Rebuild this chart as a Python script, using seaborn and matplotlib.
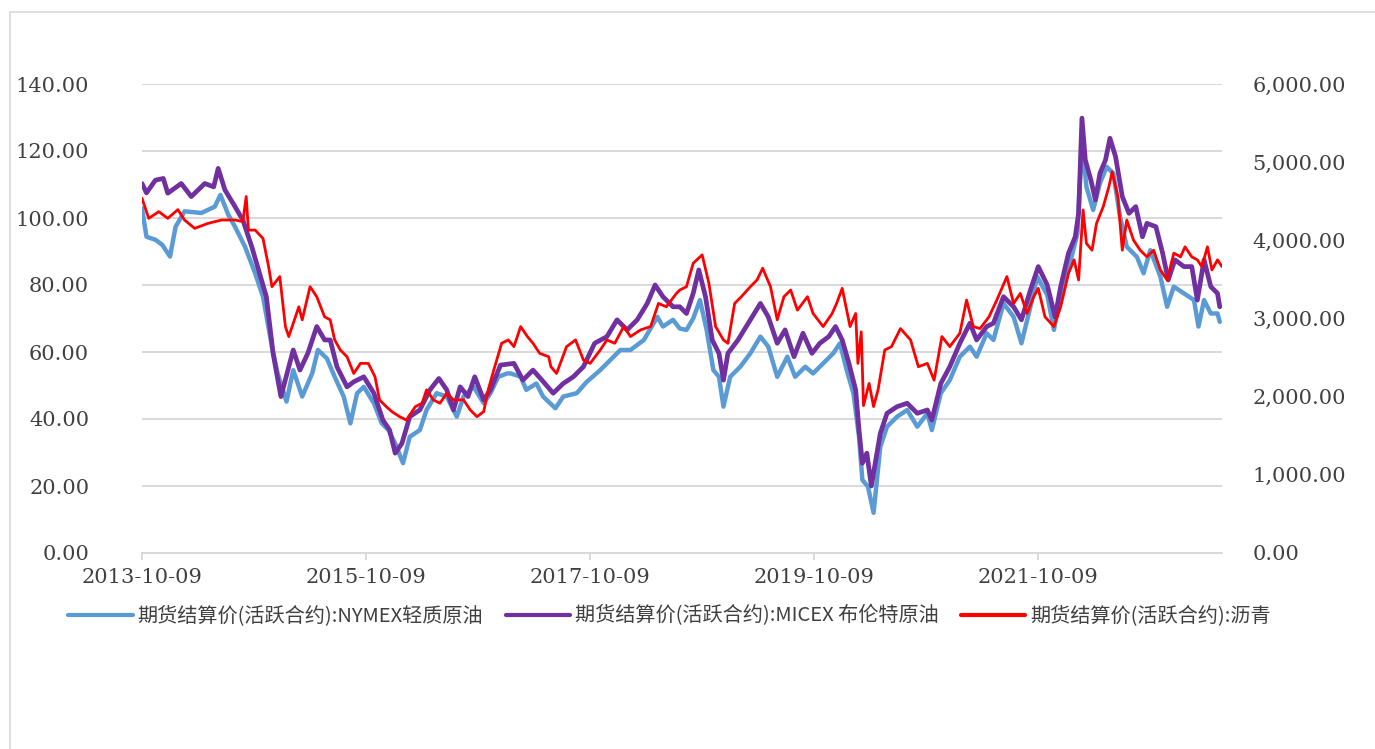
import numpy as np
import pandas as pd
import matplotlib
matplotlib.use("Agg")
import matplotlib.pyplot as plt
from matplotlib.lines import Line2D
from matplotlib.ticker import FixedLocator, FuncFormatter
import seaborn as sns

# ---------------- data (time as decimal year) ----------------
START_DATE = "2013-10-09"
START_T = 2013.77

x_tick_labels = ["2013-10-09", "2015-10-09", "2017-10-09", "2019-10-09", "2021-10-09"]
left_ticks = [0, 20, 40, 60, 80, 100, 120, 140]
right_ticks = [0, 1000, 2000, 3000, 4000, 5000, 6000]

series_names = [
    "期货结算价(活跃合约):NYMEX轻质原油",
    "期货结算价(活跃合约):MICEX 布伦特原油",
    "期货结算价(活跃合约):沥青",
]

wti_t = [2013.77, 2013.81, 2013.89, 2013.95, 2014.02, 2014.07, 2014.15, 2014.30, 2014.42, 2014.47,
         2014.54, 2014.60, 2014.69, 2014.78, 2014.85, 2014.93, 2014.98, 2015.06, 2015.12, 2015.20,
         2015.29, 2015.34, 2015.42, 2015.49, 2015.57, 2015.63, 2015.69, 2015.75, 2015.84, 2015.91,
         2015.97, 2016.03, 2016.10, 2016.16, 2016.25, 2016.31, 2016.40, 2016.49, 2016.58, 2016.64,
         2016.73, 2016.82, 2016.88, 2016.95, 2017.03, 2017.06, 2017.15, 2017.20, 2017.29, 2017.35,
         2017.46, 2017.53, 2017.65, 2017.74, 2017.86, 2017.95, 2018.04, 2018.13, 2018.25, 2018.37,
         2018.42, 2018.51, 2018.57, 2018.63, 2018.69, 2018.75, 2018.81, 2018.87, 2018.92, 2018.96,
         2019.02, 2019.11, 2019.20, 2019.29, 2019.36, 2019.44, 2019.53, 2019.60, 2019.69, 2019.76,
         2019.85, 2019.94, 2020.00, 2020.06, 2020.12, 2020.17, 2020.20, 2020.25, 2020.30, 2020.36,
         2020.42, 2020.51, 2020.60, 2020.69, 2020.78, 2020.82, 2020.90, 2020.98, 2021.07, 2021.16,
         2021.22, 2021.31, 2021.37, 2021.46, 2021.55, 2021.62, 2021.70, 2021.76, 2021.85, 2021.91,
         2021.97, 2022.06, 2022.12, 2022.16, 2022.20, 2022.26, 2022.32, 2022.38, 2022.44, 2022.50,
         2022.56, 2022.65, 2022.71, 2022.77, 2022.86, 2022.92, 2022.98, 2023.07, 2023.16, 2023.20,
         2023.25, 2023.31, 2023.37, 2023.39]
wti_v = [102.9, 94.4, 93.5, 92.0, 88.5, 97.4, 102.0, 101.5, 103.4, 106.9,
         101.0, 97.4, 91.4, 83.5, 76.5, 61.6, 53.7, 45.2, 54.6, 46.7,
         53.7, 60.6, 58.1, 52.6, 46.7, 38.7, 47.7, 49.6, 44.7, 38.7,
         36.7, 32.7, 26.8, 34.7, 36.7, 42.7, 47.7, 46.7, 40.7, 46.7,
         49.6, 44.7, 47.7, 52.6, 53.6, 53.6, 52.6, 48.7, 50.6, 46.7,
         43.2, 46.7, 47.7, 51.1, 54.6, 57.6, 60.6, 60.6, 63.6, 70.5,
         67.6, 69.6, 67.0, 66.6, 70.0, 75.5, 66.6, 54.6, 52.6, 43.7,
         52.6, 55.6, 59.6, 64.6, 61.6, 52.6, 58.6, 52.6, 55.6, 53.6,
         56.6, 59.6, 62.6, 54.6, 47.7, 34.7, 21.8, 19.8, 12.0, 31.7,
         37.7, 40.7, 42.7, 37.7, 41.7, 36.7, 47.7, 51.6, 58.6, 61.6,
         58.6, 65.6, 63.6, 74.5, 70.5, 62.6, 73.5, 82.5, 77.0, 66.6,
         77.5, 87.5, 95.4, 123.0, 109.3, 102.4, 110.3, 115.3, 113.3, 100.4,
         91.4, 88.4, 83.5, 90.4, 82.5, 73.5, 79.5, 77.5, 75.5, 67.6,
         75.5, 71.5, 71.5, 69.0]

brent_t = [2013.77, 2013.81, 2013.89, 2013.96, 2014.00, 2014.12, 2014.21, 2014.33, 2014.41, 2014.45,
           2014.51, 2014.60, 2014.67, 2014.75, 2014.81, 2014.88, 2014.94, 2015.01, 2015.08, 2015.12,
           2015.18, 2015.25, 2015.33, 2015.40, 2015.45, 2015.51, 2015.60, 2015.66, 2015.75, 2015.84,
           2015.92, 2015.98, 2016.03, 2016.09, 2016.16, 2016.25, 2016.34, 2016.42, 2016.49, 2016.55,
           2016.61, 2016.68, 2016.74, 2016.82, 2016.88, 2016.97, 2017.09, 2017.17, 2017.26, 2017.34,
           2017.44, 2017.53, 2017.62, 2017.71, 2017.81, 2017.92, 2018.01, 2018.10, 2018.19, 2018.28,
           2018.35, 2018.42, 2018.51, 2018.57, 2018.63, 2018.69, 2018.74, 2018.80, 2018.86, 2018.92,
           2018.96, 2019.00, 2019.09, 2019.20, 2019.29, 2019.36, 2019.44, 2019.51, 2019.59, 2019.67,
           2019.75, 2019.82, 2019.90, 2019.96, 2020.02, 2020.08, 2020.14, 2020.17, 2020.20, 2020.24,
           2020.28, 2020.36, 2020.42, 2020.51, 2020.60, 2020.69, 2020.78, 2020.82, 2020.90, 2020.98,
           2021.07, 2021.16, 2021.22, 2021.31, 2021.37, 2021.46, 2021.55, 2021.62, 2021.70, 2021.77,
           2021.85, 2021.92, 2021.97, 2022.04, 2022.10, 2022.13, 2022.16, 2022.19, 2022.24, 2022.28,
           2022.32, 2022.37, 2022.41, 2022.46, 2022.52, 2022.58, 2022.64, 2022.70, 2022.74, 2022.82,
           2022.88, 2022.93, 2022.99, 2023.07, 2023.14, 2023.19, 2023.25, 2023.31, 2023.37, 2023.39]
brent_v = [110.3, 107.5, 111.3, 111.8, 107.4, 110.3, 106.4, 110.3, 109.3, 114.8,
           108.4, 103.4, 99.4, 91.4, 84.5, 76.5, 59.6, 46.7, 55.6, 60.6,
           54.6, 59.6, 67.6, 63.6, 63.6, 55.6, 49.6, 51.1, 52.6, 47.7,
           39.7, 36.7, 29.8, 32.7, 40.7, 42.7, 48.7, 52.1, 48.7, 42.7,
           49.6, 46.7, 52.6, 45.7, 48.7, 56.1, 56.6, 51.6, 54.6, 51.6,
           47.7, 50.6, 52.6, 55.6, 62.6, 64.6, 69.6, 66.6, 69.6, 74.5,
           80.0, 76.5, 73.5, 73.5, 71.5, 77.5, 84.5, 76.5, 63.6, 59.6,
           51.6, 59.6, 63.6, 69.6, 74.5, 70.5, 62.6, 66.6, 58.6, 65.6,
           59.6, 62.6, 64.6, 67.6, 63.6, 56.6, 48.7, 36.7, 26.8, 29.8,
           20.0, 35.7, 41.7, 43.7, 44.7, 41.7, 42.7, 39.7, 50.6, 55.6,
           62.6, 68.6, 63.6, 67.6, 68.6, 76.5, 73.5, 69.6, 78.5, 85.5,
           80.0, 70.5, 79.5, 89.5, 94.4, 101.4, 129.8, 117.3, 111.3, 105.4,
           113.3, 117.3, 123.8, 118.3, 106.4, 101.4, 103.4, 94.4, 98.4, 97.4,
           89.5, 81.5, 87.5, 85.5, 85.5, 75.5, 87.5, 79.5, 77.5, 73.5]

asphalt_t = [2013.77, 2013.83, 2013.92, 2014.00, 2014.09, 2014.15, 2014.24, 2014.36, 2014.48, 2014.60,
             2014.67, 2014.70, 2014.72, 2014.78, 2014.85, 2014.90, 2014.93, 2015.00, 2015.05, 2015.08,
             2015.17, 2015.20, 2015.27, 2015.33, 2015.40, 2015.45, 2015.49, 2015.54, 2015.60, 2015.66,
             2015.72, 2015.79, 2015.85, 2015.89, 2015.95, 2016.00, 2016.07, 2016.13, 2016.21, 2016.27,
             2016.31, 2016.37, 2016.43, 2016.49, 2016.55, 2016.64, 2016.70, 2016.76, 2016.82, 2016.86,
             2016.91, 2016.98, 2017.04, 2017.09, 2017.15, 2017.21, 2017.26, 2017.32, 2017.40, 2017.42,
             2017.47, 2017.56, 2017.64, 2017.71, 2017.77, 2017.86, 2017.92, 2017.99, 2018.07, 2018.13,
             2018.22, 2018.31, 2018.38, 2018.45, 2018.54, 2018.57, 2018.63, 2018.69, 2018.77, 2018.83,
             2018.89, 2018.96, 2019.00, 2019.06, 2019.12, 2019.20, 2019.26, 2019.31, 2019.38, 2019.44,
             2019.50, 2019.56, 2019.62, 2019.71, 2019.76, 2019.85, 2019.93, 2019.97, 2020.02, 2020.06,
             2020.09, 2020.14, 2020.16, 2020.19, 2020.21, 2020.26, 2020.30, 2020.34, 2020.40, 2020.46,
             2020.54, 2020.63, 2020.70, 2020.78, 2020.84, 2020.91, 2020.98, 2021.07, 2021.13, 2021.19,
             2021.25, 2021.33, 2021.40, 2021.49, 2021.55, 2021.61, 2021.67, 2021.73, 2021.77, 2021.83,
             2021.91, 2021.97, 2022.04, 2022.09, 2022.13, 2022.17, 2022.20, 2022.25, 2022.29, 2022.35,
             2022.40, 2022.43, 2022.48, 2022.52, 2022.56, 2022.62, 2022.68, 2022.74, 2022.80, 2022.86,
             2022.92, 2022.98, 2023.04, 2023.08, 2023.14, 2023.19, 2023.23, 2023.28, 2023.32, 2023.37,
             2023.41]
asphalt_v = [4539, 4281, 4367, 4281, 4393, 4260, 4153, 4217, 4260, 4260,
             4239, 4560, 4131, 4131, 4024, 3664, 3407, 3536, 2897, 2769,
             3150, 2983, 3407, 3279, 3021, 2983, 2726, 2597, 2511, 2297,
             2426, 2426, 2254, 1959, 1873, 1809, 1744, 1701, 1873, 1916,
             2087, 1959, 1916, 2044, 1959, 1959, 1830, 1744, 1809, 2087,
             2340, 2683, 2726, 2640, 2897, 2769, 2683, 2554, 2511, 2383,
             2297, 2640, 2726, 2469, 2426, 2597, 2726, 2683, 2897, 2769,
             2854, 2897, 3193, 3150, 3321, 3364, 3407, 3707, 3814, 3450,
             2897, 2726, 2683, 3193, 3279, 3407, 3493, 3643, 3407, 2983,
             3279, 3364, 3107, 3279, 3064, 2897, 3064, 3193, 3386, 3107,
             2897, 3064, 2426, 2829, 1886, 2169, 1873, 2087, 2597, 2640,
             2871, 2726, 2383, 2426, 2211, 2769, 2640, 2811, 3236, 2897,
             2871, 3021, 3236, 3536, 3193, 3321, 3064, 3279, 3386, 3021,
             2897, 3150, 3579, 3750, 3493, 4389, 3960, 3874, 4217, 4431,
             4684, 4877, 4560, 3874, 4260, 4003, 3874, 3789, 3874, 3621,
             3493, 3836, 3789, 3917, 3789, 3750, 3664, 3917, 3621, 3750,
             3664]

colors = ["#5B9BD5", "#7030A0", "#FF0000"]
GRID = "#D9D9D9"
TEXT = "#404040"


def to_dates(t):
    t = np.asarray(t, dtype=float)
    return pd.Timestamp(START_DATE) + pd.to_timedelta((t - START_T) * 365.25, unit="D")


# ---------------- figure ----------------
sns.set_theme(style="white")
plt.rcParams["font.family"] = ["DejaVu Serif", "Noto Sans CJK SC", "DejaVu Sans"]

fig = plt.figure(figsize=(13.75, 7.49), dpi=100)
ax = fig.add_axes([142 / 1375, 1 - 553 / 749, (1222 - 142) / 1375, (553 - 84) / 749])
ax2 = ax.twinx()

df_wti = pd.DataFrame({"date": to_dates(wti_t), "value": wti_v})
df_brent = pd.DataFrame({"date": to_dates(brent_t), "value": brent_v})
df_asp = pd.DataFrame({"date": to_dates(asphalt_t), "value": asphalt_v})

sns.lineplot(data=df_wti, x="date", y="value", ax=ax, color=colors[0], linewidth=3.2,
             legend=False, estimator=None)
sns.lineplot(data=df_brent, x="date", y="value", ax=ax, color=colors[1], linewidth=3.4,
             legend=False, estimator=None)
sns.lineplot(data=df_asp, x="date", y="value", ax=ax2, color=colors[2], linewidth=2.0,
             legend=False, estimator=None)

for ln in ax.lines + ax2.lines:
    ln.set_solid_joinstyle("round")

x0 = to_dates([START_T])[0]
x1 = to_dates([max(asphalt_t)])[0]
ax.set_xlim(x0, x1)
ax.set_ylim(0, 140)
ax2.set_ylim(0, 6000)

ax.set_xlabel("")
ax.set_ylabel("")
ax2.set_ylabel("")

tick_dates = pd.to_datetime(x_tick_labels)
ax.set_xticks(tick_dates)
ax.set_xticklabels(x_tick_labels)
ax.yaxis.set_major_locator(FixedLocator(left_ticks))
ax.yaxis.set_major_formatter(FuncFormatter(lambda v, p: f"{v:.2f}"))
ax2.yaxis.set_major_locator(FixedLocator(right_ticks))
ax2.yaxis.set_major_formatter(FuncFormatter(lambda v, p: f"{v:,.2f}"))

ax.yaxis.grid(True, color=GRID, linewidth=1.4)
ax.xaxis.grid(False)
ax2.grid(False)

for s in ["left", "right", "top"]:
    ax.spines[s].set_visible(False)
for s in ax2.spines:
    ax2.spines[s].set_visible(False)
ax.spines["bottom"].set_color(GRID)
ax.spines["bottom"].set_linewidth(1.4)

ax.tick_params(axis="x", which="major", bottom=True, direction="out", length=5,
               width=1.4, color=GRID, labelsize=15, labelcolor=TEXT, pad=6)
ax.tick_params(axis="y", length=0, labelsize=15, labelcolor=TEXT, pad=38)
ax2.tick_params(axis="y", length=0, labelsize=15, labelcolor=TEXT, pad=22)

# outer frame of the chart area
fig.add_artist(Line2D([10 / 1375, 10 / 1375], [0, 1 - 12 / 749], transform=fig.transFigure,
                      color=GRID, linewidth=1.2))
fig.add_artist(Line2D([10 / 1375, 1], [1 - 12 / 749, 1 - 12 / 749], transform=fig.transFigure,
                      color=GRID, linewidth=1.2))

handles = [Line2D([], [], color=c, linewidth=3.0) for c in colors]
leg = fig.legend(handles, series_names, loc="center", bbox_to_anchor=(0.487, 1 - 616 / 749),
                 ncol=3, frameon=False, handlelength=3.2, handletextpad=0.25, columnspacing=1.1,
                 prop={"family": ["Noto Sans CJK SC", "DejaVu Sans"], "size": 14.5})
for txt in leg.get_texts():
    txt.set_color(TEXT)

fig.savefig("out.png", dpi=100, facecolor="white")
